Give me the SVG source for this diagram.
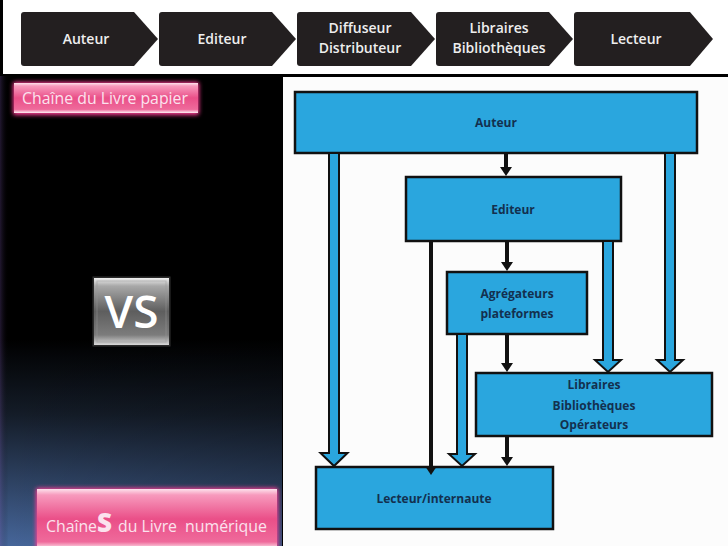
<svg xmlns="http://www.w3.org/2000/svg" width="728" height="546" viewBox="0 0 728 546">
<defs>
<style>
.chev{fill:#231f20}
.chevt{font-family:"Open Sans","Liberation Sans",sans-serif;font-weight:600;font-size:14px;fill:#eeeeee;text-anchor:middle}
.box{fill:#2aa6de;stroke:#111;stroke-width:2.5}
.bt{font-family:"Open Sans","Liberation Sans",sans-serif;font-weight:700;font-size:12px;fill:#13304f;text-anchor:middle}
.barr{fill:#2aa6de;stroke:#111;stroke-width:2}
.karr{stroke:#111;stroke-width:4;fill:none;marker-end:url(#ah)}
.pinkt{font-family:"Open Sans","Liberation Sans",sans-serif;fill:#fbe3ee}
</style>
<marker id="ah" markerUnits="userSpaceOnUse" viewBox="0 -6 9 12" markerWidth="9" markerHeight="12" refX="4" refY="0" orient="auto">
<path d="M0,-6 L9,0 L0,6 Z" fill="#111"/>
</marker>
<linearGradient id="leftbg" x1="0" y1="0" x2="0" y2="1">
<stop offset="0" stop-color="#000"/>
<stop offset="0.56" stop-color="#000"/>
<stop offset="0.72" stop-color="#141c28"/>
<stop offset="1" stop-color="#46669a"/>
</linearGradient>
<linearGradient id="leftshade" x1="0" y1="0" x2="1" y2="0">
<stop offset="0" stop-color="#7050a0" stop-opacity="0.3"/>
<stop offset="0.03" stop-color="#000" stop-opacity="0"/>
<stop offset="1" stop-color="#000" stop-opacity="0.2"/>
</linearGradient>
<linearGradient id="pink" x1="0" y1="0" x2="0" y2="1">
<stop offset="0" stop-color="#fde2ec"/>
<stop offset="0.1" stop-color="#f79abd"/>
<stop offset="0.5" stop-color="#ea4f88"/>
<stop offset="0.88" stop-color="#ef6a9b"/>
<stop offset="1" stop-color="#fff0f5"/>
</linearGradient>
<linearGradient id="gray" x1="0" y1="0" x2="0" y2="1">
<stop offset="0" stop-color="#f0f0f0"/>
<stop offset="0.12" stop-color="#a8a8a8"/>
<stop offset="0.5" stop-color="#5e5e5e"/>
<stop offset="0.85" stop-color="#7c7c7c"/>
<stop offset="1" stop-color="#d8d8d8"/>
</linearGradient>
<filter id="glow" x="-20%" y="-50%" width="140%" height="200%">
<feGaussianBlur stdDeviation="2.2"/>
</filter>
</defs>

<rect x="0" y="0" width="728" height="546" fill="#000"/>
<rect x="0" y="76" width="282" height="470" fill="url(#leftbg)"/>
<rect x="0" y="76" width="282" height="470" fill="url(#leftshade)"/>
<rect x="3" y="0" width="725" height="74" fill="#ffffff"/>
<rect x="283" y="77" width="445" height="469" fill="#fcfcfc"/>

<g id="banner">
<g id="b-auteur">
<path class="chev" d="M24,12 H134 L158,39 L134,66 H24 Q21,66 21,63 V15 Q21,12 24,12 Z"/>
<text class="chevt" x="86" y="44">Auteur</text>
</g>
<g id="b-editeur">
<path class="chev" d="M162,12 H272 L296,39 L272,66 H162 Q159,66 159,63 V15 Q159,12 162,12 Z"/>
<text class="chevt" x="222" y="44">Editeur</text>
</g>
<g id="b-diffuseur">
<path class="chev" d="M300,12 H411 L435,39 L411,66 H300 Q297,66 297,63 V15 Q297,12 300,12 Z"/>
<text class="chevt" x="360" y="33">Diffuseur</text>
<text class="chevt" x="360" y="53">Distributeur</text>
</g>
<g id="b-libraires">
<path class="chev" d="M439,12 H549 L573,39 L549,66 H439 Q436,66 436,63 V15 Q436,12 439,12 Z"/>
<text class="chevt" x="499" y="33">Libraires</text>
<text class="chevt" x="499" y="53">Bibliothèques</text>
</g>
<g id="b-lecteur">
<path class="chev" d="M577,12 H690 L713,39 L690,66 H577 Q574,66 574,63 V15 Q574,12 577,12 Z"/>
<text class="chevt" x="636" y="44">Lecteur</text>
</g>
</g>

<g id="btn-papier">
<rect x="13" y="82" width="186" height="33" rx="2" fill="#ff3d96" filter="url(#glow)"/>
<rect x="14" y="83" width="184" height="30" fill="url(#pink)"/>
<text class="pinkt" x="22" y="104" font-size="17" textLength="166" lengthAdjust="spacingAndGlyphs">Chaîne du Livre papier</text>
</g>

<g id="vs">
<rect x="93" y="277" width="77" height="69" fill="#222" stroke="#333" stroke-width="1"/>
<rect x="94" y="278" width="75" height="67" fill="url(#gray)"/>
<rect x="97" y="281" width="69" height="61" fill="none" stroke="#9a9a9a" stroke-opacity="0.5" stroke-width="1"/>
<text x="131.5" y="328" font-family="Open Sans, Liberation Sans, sans-serif" font-weight="600" font-size="46" fill="#fff" text-anchor="middle">VS</text>
</g>

<g id="btn-numerique">
<rect x="36" y="488" width="242" height="62" rx="2" fill="#ff3d96" filter="url(#glow)"/>
<rect x="37" y="489" width="240" height="60" fill="url(#pink)"/>
<text class="pinkt" x="46" y="532" font-size="16" textLength="51" lengthAdjust="spacingAndGlyphs">Chaîne</text>
<text class="pinkt" x="97" y="532" font-size="26" font-weight="800">S</text>
<text class="pinkt" x="118" y="532" font-size="16" textLength="59" lengthAdjust="spacingAndGlyphs">du Livre</text>
<text class="pinkt" x="185" y="532" font-size="16" textLength="82" lengthAdjust="spacingAndGlyphs">numérique</text>
</g>

<g id="n-auteur">
<rect class="box" x="295" y="92" width="402" height="61"/>
<text class="bt" x="496" y="127">Auteur</text>
</g>
<g id="n-editeur">
<rect class="box" x="406" y="177" width="215" height="64"/>
<text class="bt" x="513" y="214">Editeur</text>
</g>
<g id="n-agregateurs">
<rect class="box" x="447" y="272" width="140" height="62"/>
<text class="bt" x="517" y="298">Agrégateurs</text>
<text class="bt" x="517" y="318">plateformes</text>
</g>
<g id="n-libraires">
<rect class="box" x="476" y="373" width="236" height="63"/>
<text class="bt" x="594" y="389">Libraires</text>
<text class="bt" x="594" y="410">Bibliothèques</text>
<text class="bt" x="594" y="429">Opérateurs</text>
</g>
<g id="n-lecteur">
<rect class="box" x="316" y="467" width="237" height="62"/>
<text class="bt" x="434" y="503">Lecteur/internaute</text>
</g>

<g id="connectors">
<path class="barr" d="M329,154 V453 H320.5 L334,466 L347.5,453 H339 V154"/>
<path class="barr" d="M665,154 V360 H657 L670,372 L683,360 H675 V154"/>
<path class="barr" d="M603,242 V360 H595 L608,372 L621,360 H613 V242"/>
<path class="barr" d="M457,335 V454 H449 L462,466 L475,454 H467 V335"/>
<line class="karr" x1="506" y1="154" x2="506" y2="171"/>
<line class="karr" x1="507" y1="242" x2="507" y2="266"/>
<line class="karr" x1="507" y1="335" x2="507" y2="367"/>
<line class="karr" x1="507" y1="437" x2="507" y2="461"/>
<line class="karr" x1="431" y1="242" x2="431" y2="470"/>
</g>
</svg>
